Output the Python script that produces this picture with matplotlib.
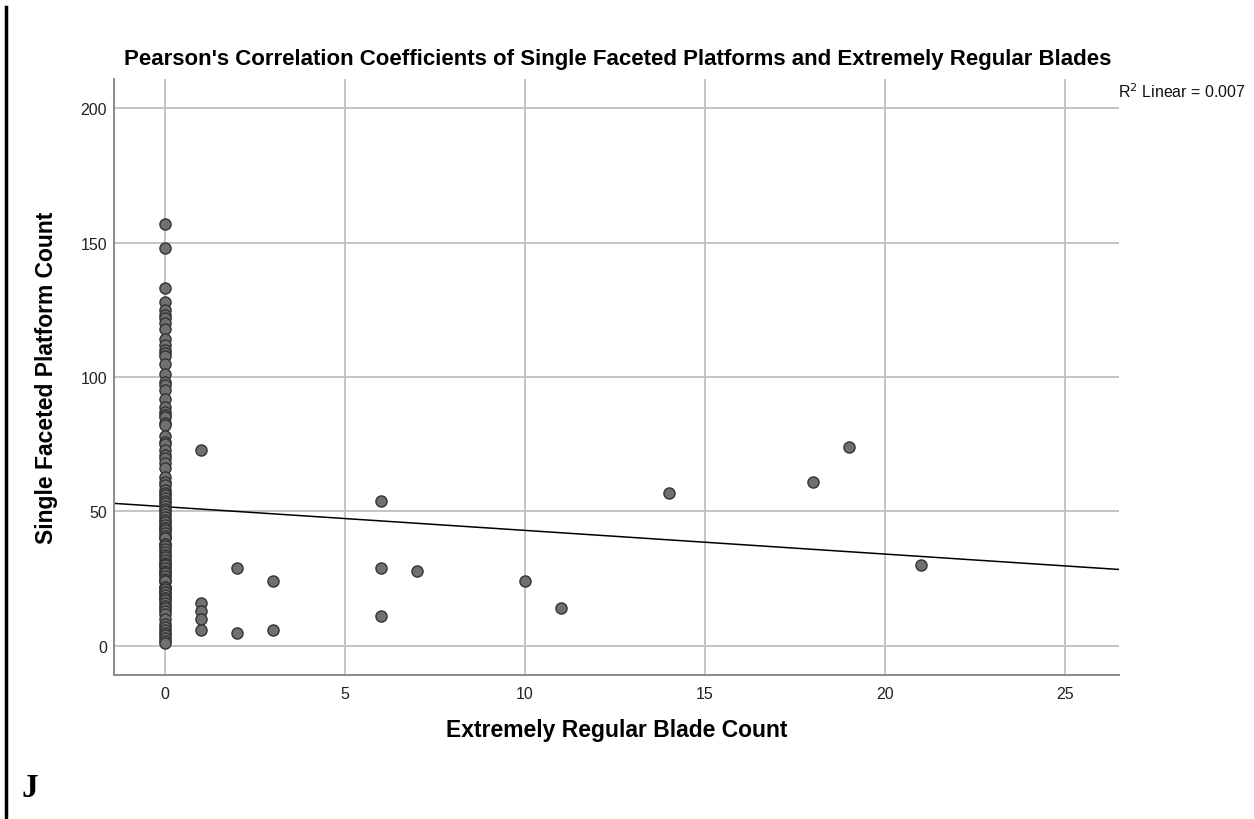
import numpy as np
import matplotlib.pyplot as plt

# blade counts and platform counts per assemblage
zero_blade_platforms = [157, 148, 133, 128, 125, 123, 122, 120, 118, 114, 112, 110, 109,
                        108, 105, 101, 98, 97, 95, 92, 89, 87, 86, 85, 83, 82, 78, 76,
                        75, 73, 71, 70, 68, 66, 63, 61, 60, 58, 57, 56, 55, 54, 53, 52,
                        51, 50, 49, 48, 47, 46, 45, 44, 44, 43, 42, 41, 40, 40, 38, 38,
                        37, 36, 35, 34, 33, 32, 31, 30, 30, 29, 28, 27, 27, 26, 25, 24,
                        24, 22, 22, 21, 20, 20, 19, 18, 18, 17, 16, 15, 14, 13, 12, 10,
                        8, 7, 6, 5, 4, 3, 2, 1]
other_blades = [1, 1, 1, 1, 1, 2, 2, 3, 3, 6, 6, 6, 7, 10, 11, 14, 18, 19, 21]
other_platforms = [73, 16, 13, 10, 6, 29, 5, 24, 6, 54, 29, 11, 28, 24, 14, 57, 61, 74, 30]

blades = np.array([0] * len(zero_blade_platforms) + other_blades, dtype=float)
platforms = np.array(zero_blade_platforms + other_platforms, dtype=float)

x_ticks = [0, 5, 10, 15, 20, 25]
y_ticks = [0, 50, 100, 150, 200]
r2_text = "R$^2$ Linear = 0.007"

plt.rcParams['font.family'] = ['Liberation Sans', 'DejaVu Sans']

fig = plt.figure(figsize=(12.54, 8.2), dpi=100)
ax = fig.add_axes([0.0909, 0.1756, 0.8014, 0.7268])

xlim = (-1.42, 26.5)
ylim = (-10.8, 210.8)

# least squares line over the full x range
slope, intercept = np.polyfit(blades, platforms, 1)
xx = np.array(xlim)
ax.plot(xx, intercept + slope * xx, color='black', lw=1.1, zorder=2)

ax.scatter(blades, platforms, s=64, facecolor='#707070', edgecolor='#333333',
           linewidth=1.0, zorder=3)

ax.set_xlim(*xlim)
ax.set_ylim(*ylim)
ax.set_xticks(x_ticks)
ax.set_yticks(y_ticks)
ax.grid(True, color='#c4c4c4', lw=1.4)
ax.set_axisbelow(True)
ax.tick_params(length=0, labelsize=11.5, colors='#222222')
ax.tick_params(axis='y', pad=5)
ax.tick_params(axis='x', pad=8)
for side in ['top', 'right']:
    ax.spines[side].set_visible(False)
for side in ['left', 'bottom']:
    ax.spines[side].set_color('#8a8a8a')
    ax.spines[side].set_linewidth(1.4)

ax.set_xlabel("Extremely Regular Blade Count", fontsize=16.5, fontweight='bold', labelpad=12)
ax.set_ylabel("Single Faceted Platform Count", fontsize=16.5, fontweight='bold', labelpad=16)
fig.text(0.4925, 0.928, "Pearson's Correlation Coefficients of Single Faceted Platforms and "
         "Extremely Regular Blades", ha='center', va='center', fontsize=16, fontweight='bold')
fig.text(0.8915, 0.888, r2_text, ha='left', va='center', fontsize=11.5, color='#111111')

# panel letter and left rule
fig.text(0.017, 0.028, "J", fontsize=24, fontweight='bold', family='Liberation Serif')
fig.add_artist(plt.Line2D([0.0045, 0.0045], [0.0, 0.99], color='black', lw=2.5,
                          transform=fig.transFigure))

fig.savefig("out.png", dpi=100)
